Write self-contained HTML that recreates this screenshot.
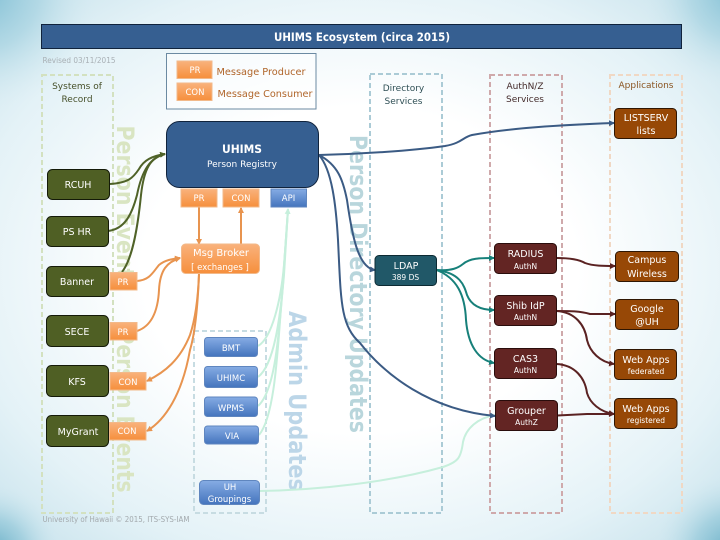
<!DOCTYPE html>
<html><head><meta charset="utf-8"><style>
html,body{margin:0;padding:0;width:720px;height:540px;overflow:hidden;background:#fff}
svg{display:block}
text{font-family:"DejaVu Sans","Liberation Sans",sans-serif;text-anchor:middle}
.w{fill:#fff;font-size:9.5px}
.s{fill:#fff;font-size:7.5px}
.h{fill:#46502a;font-size:9px}
.o{fill:#fff;font-size:8.5px}
path.c{fill:none;stroke-width:2}
</style></head><body>
<svg width="720" height="540" viewBox="0 0 720 540" xmlns="http://www.w3.org/2000/svg">
<defs>
<radialGradient id="bg" cx="50%" cy="50%" r="72%"><stop offset="0.42" stop-color="#fff"/><stop offset="0.76" stop-color="#e4f2f7"/><stop offset="1" stop-color="#c5e1eb"/></radialGradient>
<radialGradient id="tl" gradientUnits="userSpaceOnUse" cx="-20" cy="-10" r="120"><stop offset="0" stop-color="#7dbdd3"/><stop offset="0.5" stop-color="#a9d4e2" stop-opacity=".75"/><stop offset="1" stop-color="#d8ecf3" stop-opacity="0"/></radialGradient>
<radialGradient id="tr" gradientUnits="userSpaceOnUse" cx="740" cy="-10" r="100"><stop offset="0" stop-color="#7dbdd3"/><stop offset="0.5" stop-color="#a9d4e2" stop-opacity=".75"/><stop offset="1" stop-color="#d8ecf3" stop-opacity="0"/></radialGradient>
<radialGradient id="bl" gradientUnits="userSpaceOnUse" cx="-10" cy="555" r="75"><stop offset="0" stop-color="#5ea9c2"/><stop offset="0.5" stop-color="#9dcddd" stop-opacity=".8"/><stop offset="1" stop-color="#d8ecf3" stop-opacity="0"/></radialGradient>
<radialGradient id="br" gradientUnits="userSpaceOnUse" cx="735" cy="555" r="85"><stop offset="0" stop-color="#5ea9c2"/><stop offset="0.5" stop-color="#9dcddd" stop-opacity=".8"/><stop offset="1" stop-color="#d8ecf3" stop-opacity="0"/></radialGradient>
<linearGradient id="og" x1="0" y1="0" x2="0" y2="1"><stop offset="0" stop-color="#f9b27c"/><stop offset="1" stop-color="#f68f3c"/></linearGradient>
<linearGradient id="bug" x1="0" y1="0" x2="0" y2="1"><stop offset="0" stop-color="#86ace4"/><stop offset="1" stop-color="#4474bd"/></linearGradient>
<marker id="ag" markerWidth="3" markerHeight="3" refX="2.500" refY="1.500" orient="auto"><path d="M0 0L3 1.500L0 3z" fill="#4f6228"/></marker>
<marker id="ao" markerWidth="3" markerHeight="3" refX="2.500" refY="1.500" orient="auto"><path d="M0 0L3 1.500L0 3z" fill="#e8944f"/></marker>
<marker id="am" markerWidth="3" markerHeight="3" refX="2.500" refY="1.500" orient="auto"><path d="M0 0L3 1.500L0 3z" fill="#c6efdc"/></marker>
<marker id="an" markerWidth="3" markerHeight="3" refX="2.500" refY="1.500" orient="auto"><path d="M0 0L3 1.500L0 3z" fill="#3b5b84"/></marker>
<marker id="at" markerWidth="3" markerHeight="3" refX="2.500" refY="1.500" orient="auto"><path d="M0 0L3 1.500L0 3z" fill="#17807a"/></marker>
<marker id="ab" markerWidth="3" markerHeight="3" refX="2.500" refY="1.500" orient="auto"><path d="M0 0L3 1.500L0 3z" fill="#5a2222"/></marker>
</defs>

<rect width="720" height="540" fill="url(#bg)"/>
<rect width="720" height="540" fill="url(#tl)"/>
<rect width="720" height="540" fill="url(#tr)"/>
<rect width="720" height="540" fill="url(#bl)"/>
<rect width="720" height="540" fill="url(#br)"/>

<!-- title -->
<rect x="41.500" y="24.500" width="640" height="24" fill="#365f91" stroke="#10233c"/>
<text x="362" y="41" fill="#fff" font-size="11.500" font-weight="bold" textLength="176" lengthAdjust="spacingAndGlyphs">UHIMS Ecosystem (circa 2015)</text>
<text x="79" y="63" fill="#a9b0b5" font-size="7.500" textLength="73" lengthAdjust="spacingAndGlyphs">Revised 03/11/2015</text>
<text x="116" y="522" fill="#a3a9ad" font-size="7.500" textLength="147" lengthAdjust="spacingAndGlyphs">University of Hawaii © 2015, ITS-SYS-IAM</text>

<!-- dashed groups -->
<g fill="none" stroke-width="2" stroke-dasharray="5 3">
<rect x="42" y="75" width="71" height="438" stroke="#d3e1c0"/>
<rect x="194" y="331" width="72" height="182" stroke="#c7dce2"/>
<rect x="370" y="74" width="72" height="439" stroke="#abcbd6"/>
<rect x="490" y="75" width="72" height="438" stroke="#cfa9ab"/>
<rect x="610" y="75" width="72" height="438" stroke="#f0d8c4"/>
</g>

<!-- big rotated labels -->
<g font-size="24" font-weight="bold">
<text transform="translate(117,208) rotate(90)" fill="#d9e5c2" textLength="165" lengthAdjust="spacingAndGlyphs">Person Events</text>
<text transform="translate(117,411) rotate(90)" fill="#d9e5c2" textLength="163" lengthAdjust="spacingAndGlyphs">Person Events</text>
<text transform="translate(350,284) rotate(90)" fill="#b9d6dc" textLength="298" lengthAdjust="spacingAndGlyphs">Person Directory Updates</text>
<text transform="translate(289,401) rotate(90)" fill="#bcd6e8" textLength="180" lengthAdjust="spacingAndGlyphs">Admin Updates</text>
</g>

<!-- group headings -->
<text class="h" x="77" y="89">Systems of</text><text class="h" x="77" y="102">Record</text>
<text class="h" x="403.500" y="91" style="fill:#2f4f55">Directory</text><text class="h" x="403.500" y="104" style="fill:#2f4f55">Services</text>
<text class="h" x="525" y="89" style="fill:#432a2a">AuthN/Z</text><text class="h" x="525" y="102" style="fill:#432a2a">Services</text>
<text class="h" x="646" y="88" style="fill:#8a5420">Applications</text>

<!-- legend -->
<rect x="166.500" y="53.500" width="149.500" height="55.500" fill="#fff" fill-opacity=".5" stroke="#6b8aa2"/>
<rect x="177" y="61" width="35" height="17.500" fill="url(#og)" stroke="#f2b98a"/>
<rect x="177" y="83" width="35" height="17.500" fill="url(#og)" stroke="#f2b98a"/>
<text class="o" x="195" y="73">PR</text><text class="o" x="195" y="95">CON</text>
<text x="261" y="75" fill="#b0652a" font-size="10" textLength="89" lengthAdjust="spacingAndGlyphs">Message Producer</text>
<text x="265" y="97" fill="#b0652a" font-size="10" textLength="95" lengthAdjust="spacingAndGlyphs">Message Consumer</text>

<!-- connectors: mint -->
<path class="c" stroke="#c6efdc" d="M258 346C272 338 281 300 284 265C286 240 287 225 288 209"/>
<path class="c" stroke="#c6efdc" d="M258 377C274 365 280 320 284 275C286 245 287 225 288 209"/>
<path class="c" stroke="#c6efdc" d="M258 406C276 390 279 330 283 285C285 250 287 225 288 209"/>
<path class="c" stroke="#c6efdc" marker-end="url(#am)" d="M259 435C276 415 278 340 282 295C285 255 287 225 288 209"/>
<path class="c" stroke="#c6efdc" d="M259.500 491C320 490 390 482 443 467C458 462 461 458 463 442C466 428 478 418 495 415"/>

<!-- green -->
<path class="c" stroke="#4f6228" marker-end="url(#ag)" d="M110 184C128 183 133 178 139 169C144 160 152 156 165 154"/>
<path class="c" stroke="#4f6228" d="M108 231C125 229 132 214 137 195C142 170 150 158 165 154"/>
<path class="c" stroke="#4f6228" d="M122 272C133 258 138 225 141 195C144 168 151 157 165 154"/>

<!-- orange -->
<path class="c" stroke="#e8944f" marker-end="url(#ao)" d="M199 207V244"/>
<path class="c" stroke="#e8944f" marker-end="url(#ao)" d="M241 244V208"/>
<path class="c" stroke="#e8944f" marker-end="url(#ao)" d="M137 281C150 280 153 272 159 265C165 260 172 259 180 258"/>
<path class="c" stroke="#e8944f" marker-end="url(#ao)" d="M137 331C152 326 158 310 159 290C160 270 167 262 180 258"/>
<path class="c" stroke="#e8944f" marker-end="url(#ao)" d="M199 274C198 300 195 320 190 335C180 360 165 372 147 381"/>
<path class="c" stroke="#e8944f" marker-end="url(#ao)" d="M199 274C198 300 196 330 190 350C182 395 165 420 147 431"/>

<!-- navy -->
<path class="c" stroke="#3b5b84" marker-end="url(#an)" d="M319 155C360 154 410 151 445 146C462 143 463 137 472 135C510 128 560 125 614 123"/>
<path class="c" stroke="#3b5b84" marker-end="url(#an)" d="M319 155C338 165 343 180 347 200C352 235 358 268 375 270"/>
<path class="c" stroke="#3b5b84" marker-end="url(#an)" d="M319 155C332 170 336 205 338 240C341 300 340 325 360 343C385 375 430 410 495 416"/>

<!-- teal -->
<path class="c" stroke="#17807a" marker-end="url(#at)" d="M436.500 270C452 271 458 268 463 264C470 258 480 258 494 258"/>
<path class="c" stroke="#17807a" marker-end="url(#at)" d="M436.500 270C460 273 464 285 467 295C471 305 480 310 494 310"/>
<path class="c" stroke="#17807a" marker-end="url(#at)" d="M436.500 270C457 278 465 295 466 320C468 345 478 360 494 363"/>

<!-- brown -->
<path class="c" stroke="#5a2222" marker-end="url(#ab)" d="M556.500 258C570 258 580 260 585 263C593 266 604 266 615 266"/>
<path class="c" stroke="#5a2222" marker-end="url(#ab)" d="M556.500 311C570 311 580 311 590 314L615 314"/>
<path class="c" stroke="#5a2222" marker-end="url(#ab)" d="M556.500 311C575 312 585 325 587 340C590 352 600 362 614 364"/>
<path class="c" stroke="#5a2222" marker-end="url(#ab)" d="M556.500 364C575 365 585 378 587 393C590 403 600 412 614 414"/>
<path class="c" stroke="#5a2222" marker-end="url(#ab)" d="M557.500 415.500L587 414L614 414"/>

<!-- UHIMS -->
<rect x="166.500" y="121.500" width="152" height="66" rx="13" fill="#365f91" stroke="#10233c"/>
<text x="242" y="153" fill="#fff" font-size="11.500" font-weight="bold" textLength="40" lengthAdjust="spacingAndGlyphs">UHIMS</text>
<text x="242" y="167" fill="#fff" font-size="9">Person Registry</text>
<rect x="181" y="189" width="36" height="18" fill="url(#og)" stroke="#f2b98a"/>
<rect x="223" y="189" width="36" height="18" fill="url(#og)" stroke="#f2b98a"/>
<rect x="271" y="189" width="35.500" height="18" fill="url(#bug)" stroke="#5f86bf"/>
<text class="o" x="199" y="201">PR</text><text class="o" x="241" y="201">CON</text><text class="o" x="288.500" y="201">API</text>

<!-- broker -->
<rect x="181.500" y="244" width="78" height="29.500" rx="4" fill="url(#og)" stroke="#f2b98a"/>
<text x="221" y="256" fill="#fff" font-size="10">Msg Broker</text>
<text x="220" y="270" fill="#fff" font-size="8.500">[ exchanges ]</text>

<!-- SoR boxes -->
<g fill="#4f5f24" stroke="#141a08">
<rect x="47.500" y="169.500" width="62" height="30" rx="5"/>
<rect x="46.500" y="216.500" width="62" height="30" rx="5"/>
<rect x="46.500" y="266.500" width="62" height="30" rx="5"/>
<rect x="46.500" y="315.500" width="62" height="31" rx="5"/>
<rect x="46.500" y="365.500" width="62" height="31" rx="5"/>
<rect x="46.500" y="415.500" width="62" height="31" rx="5"/>
</g>
<text class="w" x="78" y="188">RCUH</text>
<text class="w" x="77" y="235">PS HR</text>
<text class="w" x="77" y="285">Banner</text>
<text class="w" x="77" y="335">SECE</text>
<text class="w" x="77" y="385">KFS</text>
<text class="w" x="78" y="435">MyGrant</text>

<!-- SoR tags -->
<g fill="url(#og)" stroke="#f2b98a">
<rect x="110" y="272.500" width="27" height="17.500"/>
<rect x="110" y="322.500" width="27" height="17.500"/>
<rect x="110" y="372.500" width="36" height="17.500"/>
<rect x="109.500" y="422.500" width="36.500" height="17.500"/>
</g>
<text class="o" x="123" y="285">PR</text><text class="o" x="123" y="335">PR</text>
<text class="o" x="128" y="385">CON</text><text class="o" x="127" y="434">CON</text>

<!-- admin boxes -->
<g fill="url(#bug)" stroke="#5f86bf">
<rect x="204.500" y="337.500" width="53" height="19" rx="3"/>
<rect x="204.500" y="366.500" width="53" height="21" rx="3"/>
<rect x="204.500" y="397" width="53" height="19.500" rx="3"/>
<rect x="204.500" y="426" width="54" height="18" rx="3"/>
<rect x="199.500" y="480.500" width="60" height="24" rx="4"/>
</g>
<text class="o" x="231" y="351">BMT</text>
<text class="o" x="231" y="381">UHIMC</text>
<text class="o" x="231" y="411">WPMS</text>
<text class="o" x="232" y="439">VIA</text>
<text class="o" x="230" y="490">UH</text>
<text class="o" x="229.500" y="502">Groupings</text>

<!-- LDAP -->
<rect x="375" y="255.500" width="61.500" height="30" rx="4" fill="#215868" stroke="#0c2a33"/>
<text class="w" x="406" y="269">LDAP</text>
<text class="s" x="405.500" y="280">389 DS</text>

<!-- Auth -->
<g fill="#632523" stroke="#2a0d0c">
<rect x="494.500" y="243.500" width="62" height="30" rx="4"/>
<rect x="494.500" y="295.500" width="62" height="30" rx="4"/>
<rect x="494.500" y="348.500" width="62" height="30" rx="4"/>
<rect x="495.500" y="400.500" width="62" height="30" rx="4"/>
</g>
<text class="w" x="525.500" y="257">RADIUS</text><text class="s" x="525.500" y="269">AuthN</text>
<text class="w" x="525.500" y="309">Shib IdP</text><text class="s" x="525.500" y="320">AuthN</text>
<text class="w" x="525.500" y="362">CAS3</text><text class="s" x="525.500" y="373">AuthN</text>
<text class="w" x="526.500" y="414">Grouper</text><text class="s" x="526.500" y="425">AuthZ</text>

<!-- Apps -->
<g fill="#974806" stroke="#2f1602">
<rect x="614.500" y="108.500" width="62" height="30" rx="4"/>
<rect x="615.500" y="251.500" width="63" height="30" rx="4"/>
<rect x="615.500" y="299.500" width="63" height="30" rx="4"/>
<rect x="614.500" y="349.500" width="62" height="30" rx="4"/>
<rect x="614.500" y="398.500" width="62.500" height="30" rx="4"/>
</g>
<text class="w" x="646" y="121">LISTSERV</text><text class="w" x="646" y="134">lists</text>
<text class="w" x="647" y="263">Campus</text><text class="w" x="647" y="277">Wireless</text>
<text class="w" x="647" y="312">Google</text><text class="w" x="647" y="325">@UH</text>
<text class="w" x="646" y="363">Web Apps</text><text class="s" x="646" y="374">federated</text>
<text class="w" x="646" y="412">Web Apps</text><text class="s" x="646" y="423">registered</text>
</svg>
</body></html>
